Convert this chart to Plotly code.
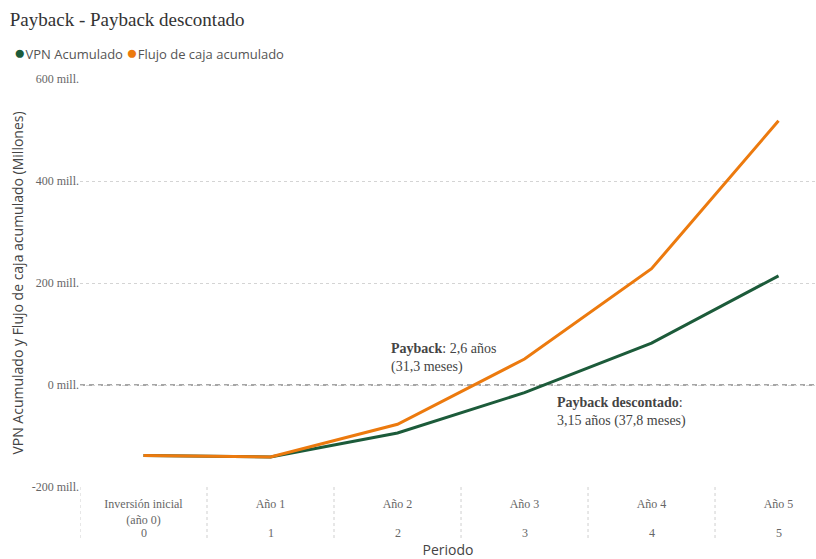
import plotly.graph_objects as go

# Periods and cumulative values (millions)
periodos = [0, 1, 2, 3, 4, 5]
etiquetas = ["Inversión inicial<br>(año 0)", "Año 1", "Año 2", "Año 3", "Año 4", "Año 5"]
flujo_acumulado = [-138, -141, -77, 51, 228, 518]
vpn_acumulado = [-138, -141, -94, -15, 82, 214]
y_ticks = [-200, 0, 200, 400, 600]
y_tick_text = ["-200 mill.", "0 mill.", "200 mill.", "400 mill.", "600 mill."]

ORANGE = "#EC7A0E"
GREEN = "#1C5B3A"
SERIF = "Liberation Serif"
SANS = "Open Sans"

fig = go.Figure()

fig.add_trace(go.Scatter(x=periodos, y=vpn_acumulado, mode="lines",
                         line=dict(color=GREEN, width=3), showlegend=False,
                         name="VPN Acumulado"))
fig.add_trace(go.Scatter(x=periodos, y=flujo_acumulado, mode="lines",
                         line=dict(color=ORANGE, width=3), showlegend=False,
                         name="Flujo de caja acumulado"))

# Compact legend with coloured dots
fig.add_annotation(
    xref="paper", yref="paper", x=-0.093, y=1.066, xanchor="left", yanchor="middle",
    showarrow=False, align="left",
    text=(f'<span style="color:{GREEN};font-size:19px">●</span>VPN Acumulado '
          f'<span style="color:{ORANGE};font-size:19px">●</span>Flujo de caja acumulado'),
    font=dict(family=SANS, size=13, color="#555555"))

# Zero reference line
fig.add_shape(type="line", xref="paper", yref="y", x0=0, x1=1, y0=0, y1=0,
              line=dict(color="#a6a6a6", width=2, dash="5px,4px"), layer="below")

# Category separators in the label area
for p in periodos:
    fig.add_shape(type="line", xref="x", yref="paper", x0=p - 0.5, x1=p - 0.5,
                  y0=0, y1=-0.13, line=dict(color="#cfcfcf", width=1, dash="dot"))

# Period numbers under the category names
for p in periodos:
    fig.add_annotation(x=p, y=-0.113, xref="x", yref="paper", yanchor="middle", text=str(p),
                       showarrow=False, font=dict(family=SERIF, size=12, color="#666666"))

fig.add_annotation(x=1.93, y=52, xref="x", yref="y", xanchor="left", yanchor="middle",
                   align="left", showarrow=False,
                   text="<b>Payback</b>: 2,6 años<br>(31,3 meses)",
                   font=dict(family=SERIF, size=14, color="#444444"))
fig.add_annotation(x=3.24, y=-52, xref="x", yref="y", xanchor="left", yanchor="middle",
                   align="left", showarrow=False,
                   text="<b>Payback descontado</b>:<br>3,15 años (37,8 meses)",
                   font=dict(family=SERIF, size=14, color="#444444"))

fig.update_layout(
    width=816, height=559,
    margin=dict(l=80, r=0, t=79, b=72),
    plot_bgcolor="white", paper_bgcolor="white",
    showlegend=False,
    title=dict(text="Payback - Payback descontado", xref="container", yref="container",
               x=0.012, y=0.965, xanchor="left", yanchor="middle",
               font=dict(family=SERIF, size=19, color="#333333")),
    xaxis=dict(range=[-0.5, 5.295], tickvals=periodos, ticktext=etiquetas,
               showgrid=False, zeroline=False, showline=False, ticks="",
               ticklabelstandoff=8,
               tickfont=dict(family=SERIF, size=12, color="#666666"),
               title=dict(text="Periodo", standoff=22,
                          font=dict(family=SANS, size=14, color="#444444"))),
    yaxis=dict(range=[-200, 600], tickvals=y_ticks, ticktext=y_tick_text,
               showgrid=True, gridcolor="#d4d4d4", griddash="dot", gridwidth=1,
               zeroline=False, showline=False, ticks="",
               tickfont=dict(family=SERIF, size=12, color="#666666"),
               title=dict(text="VPN Acumulado y Flujo de caja acumulado (Millones)", standoff=4,
                          font=dict(family=SANS, size=14, color="#444444"))),
)

fig.write_html("out.html")
